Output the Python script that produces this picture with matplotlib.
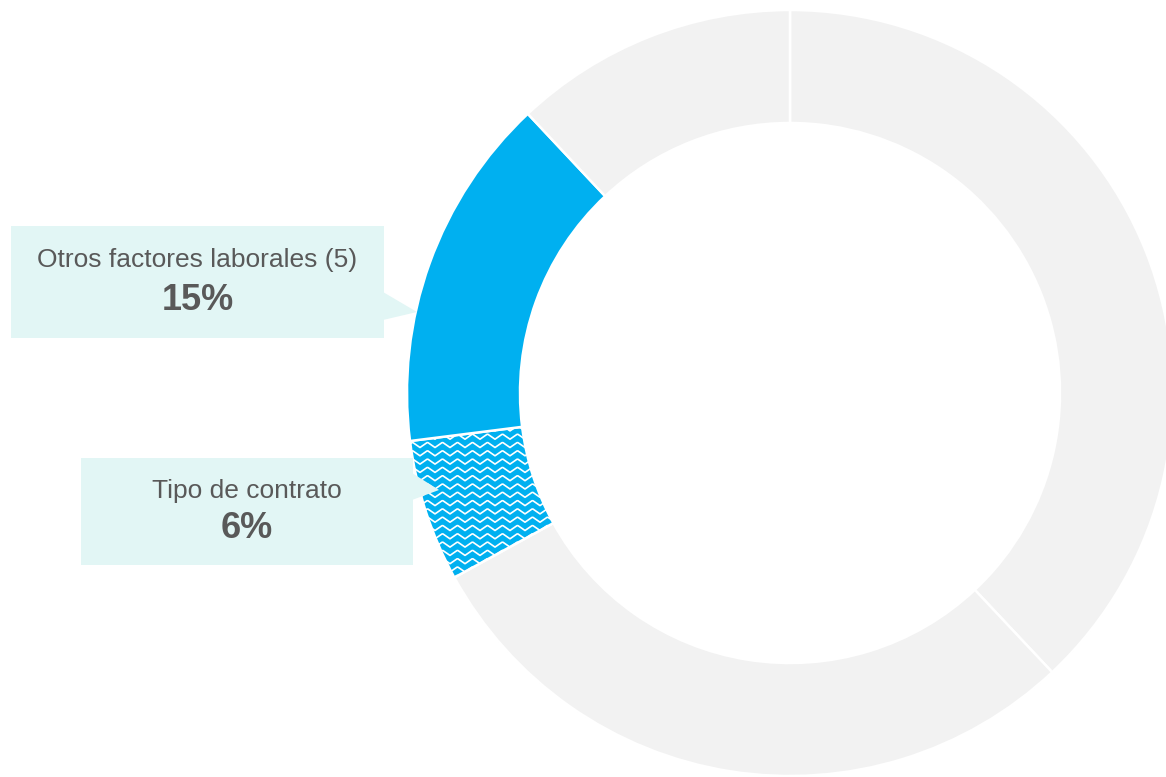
import numpy as np
import matplotlib
matplotlib.use('Agg')
import matplotlib.pyplot as plt
from matplotlib.patches import Rectangle, Polygon

plt.rcParams['font.family'] = ['Liberation Sans', 'DejaVu Sans']

# data (clockwise from 12 o'clock)
segments = ['Resto A', 'Resto B', 'Tipo de contrato', 'Otros factores laborales (5)', 'Resto C']
values = [38, 29, 6, 15, 12]
labels = {2: ('Tipo de contrato', '6%'), 3: ('Otros factores laborales (5)', '15%')}

gray = '#F2F2F2'
blue = '#00B0F0'
txt = '#595959'
box = '#E2F6F5'
colors = [gray, gray, blue, blue, gray]

W, H = 1166, 777
fig = plt.figure(figsize=(W / 100, H / 100), dpi=100)
ax = fig.add_axes([0, 0, 1, 1])

cx, cy, R, r_in = 790, 393, 383, 270
# y axis runs downward (pixel coords), so counterclock=True reads clockwise on screen
wedges, _ = ax.pie(values, colors=colors, startangle=-90, counterclock=True,
                   center=(cx, cy), radius=R, frame=True,
                   wedgeprops=dict(width=R - r_in, edgecolor='white', linewidth=1.8))
ax.set_xlim(0, W)
ax.set_ylim(H, 0)
ax.set_aspect('equal')
ax.axis('off')

# wavy white pattern on "Tipo de contrato"
tw = wedges[2]
xs = np.arange(380, 600, 1.0)
period, amp = 15.0, 2.6
wave = amp * (2 * np.abs(2 * ((xs / period) % 1) - 1) - 1)
for y0 in np.arange(420, 600, 8.3):
    ln, = ax.plot(xs, y0 + wave, color='white', lw=1.2, zorder=3)
    ln.set_clip_path(tw)

# callout boxes
def callout(x0, y0, x1, y1, tri, name, pct, ty1, ty2):
    ax.add_patch(Rectangle((x0, y0), x1 - x0, y1 - y0, facecolor=box,
                           edgecolor='none', zorder=4))
    ax.add_patch(Polygon(tri, closed=True, facecolor=box, edgecolor='none', zorder=4))
    xc = (x0 + x1) / 2
    ax.text(xc, ty1, name, ha='center', va='center', fontsize=19,
            color=txt, zorder=5)
    ax.text(xc, ty2, pct, ha='center', va='center', fontsize=26,
            fontweight='bold', color=txt, zorder=5)

callout(11, 226, 384, 338, [(383, 292), (417, 312), (383, 320)],
        labels[3][0], labels[3][1], 260, 300)
callout(81, 458, 413, 565, [(412, 473), (439, 490), (412, 500)],
        labels[2][0], labels[2][1], 491, 528)

fig.savefig('out.png', dpi=100)
